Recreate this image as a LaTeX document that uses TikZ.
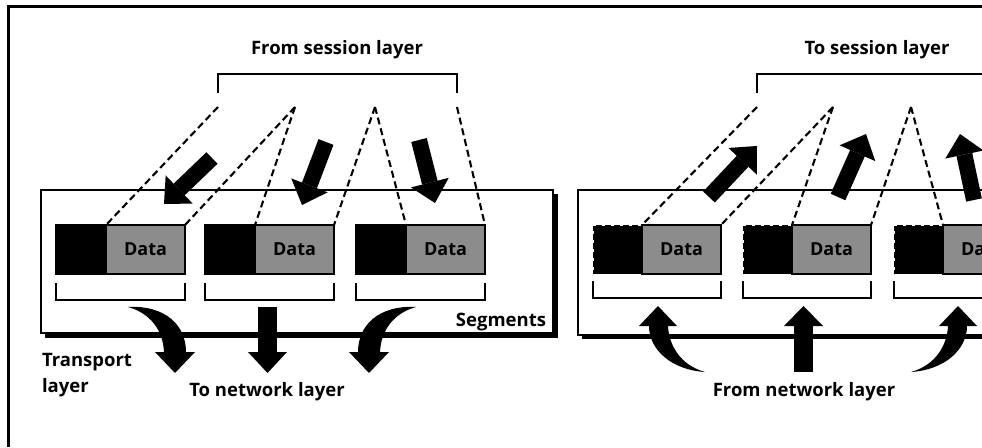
\documentclass[tikz,border=0pt]{standalone}
\usepackage{fontspec}
\setmainfont{Open Sans}
\usetikzlibrary{arrows.meta}
\definecolor{datagray}{RGB}{140,140,140}
\begin{document}
\begin{tikzpicture}[x=1pt,y=-1pt,
  every node/.style={inner sep=0pt, outer sep=0pt},
  lbl/.style={font=\bfseries\fontsize{18.5}{26}\selectfont},
  seghdr/.style={draw=black, fill=black, line width=1.3pt, minimum width=50pt, minimum height=49pt, anchor=north west},
  roughhdr/.style={fill=black, draw=white, line width=0.9pt, dash pattern=on 3pt off 6pt, minimum width=49pt, minimum height=49pt, anchor=north west},
  segdata/.style={draw=black, fill=datagray, line width=1.3pt, minimum width=79pt, minimum height=49pt, anchor=north west, font=\bfseries\fontsize{18}{20}\selectfont},
  bracket/.style={draw=black, line width=1.5pt},
  dashline/.style={draw=black, line width=2.1pt, dash pattern=on 7pt off 4pt},
  blockarrow/.style={line width=16pt, -{Triangle[width=39pt,length=21pt,line width=0pt]}},
  panel/.style={draw=black, fill=white, line width=1.5pt},
  shadow/.style={fill=black}
]
\useasboundingbox (0,0) rectangle (982,447);
\clip (0,0) rectangle (982,447);
\fill[white] (0,0) rectangle (982,447);

% outer frame
\coordinate (fbl) at (8.5,447);
\coordinate (ftl) at (8.5,6.5);
\coordinate (ftr) at (982,6.5);
\draw[line width=3pt] (fbl) -- (ftl) -- (ftr);

% panels with drop shadow
\fill[shadow] (45,194) rectangle (558,338);
\draw[panel] (41,190) rectangle (553,333);
\fill[shadow] (582,194) rectangle (1010,339);
\draw[panel] (578,190) rectangle (1005,335);

% ---------- left side ----------
\node[lbl] (fromsess) at (337,50) {From session layer};
\coordinate (s1) at (218,107);
\coordinate (s2) at (295,107);
\coordinate (s3) at (375,107);
\coordinate (s4) at (457,107);
\coordinate (bl1) at (218,93);
\coordinate (bl2) at (218,74);
\coordinate (bl3) at (457,74);
\coordinate (bl4) at (457,93);
\draw[bracket] (bl1) -- (bl2) -- (bl3) -- (bl4);

\node[seghdr] (h1) at (56,225) {};
\node[segdata] (d1) at (106,225) {Data};
\node[seghdr] (h2) at (205,225) {};
\node[segdata] (d2) at (255,225) {Data};
\node[seghdr] (h3) at (356,225) {};
\node[segdata] (d3) at (406,225) {Data};

\foreach \i in {1,2,3}{
  \draw[bracket] ([yshift=-9pt]h\i.south west) -- ++(0,17) -- ([yshift=-26pt]d\i.south east) -- ++(0,-17);
}

\draw[dashline] (s1) -- (d1.north west);
\draw[dashline] (s2) -- (d1.north east);
\draw[dashline] (s2) -- (d2.north west);
\draw[dashline] (s3) -- (d2.north east);
\draw[dashline] (s3) -- (d3.north west);
\draw[dashline] (s4) -- (d3.north east);

\coordinate (a1s) at (212,158); \coordinate (a1e) at (164,204);
\coordinate (a2s) at (326,142); \coordinate (a2e) at (302,205);
\coordinate (a3s) at (419,140); \coordinate (a3e) at (435,203);
\draw[blockarrow] (a1s) -- (a1e);
\draw[blockarrow] (a2s) -- (a2e);
\draw[blockarrow] (a3s) -- (a3e);

% down swooshes
\fill (128,307) .. controls (165,305) and (186,325) .. (186,352) -- (195,352) -- (175,373) -- (155,352) -- (164,352) .. controls (163,330) and (150,313) .. (128,307) -- cycle;
\fill (258,307) rectangle (277,353);
\fill (248,352) -- (287,352) -- (267.5,373) -- cycle;
\fill (416,307) .. controls (379,305) and (358,325) .. (358,352) -- (349,352) -- (369,373) -- (389,352) -- (380,352) .. controls (381,330) and (394,313) .. (416,307) -- cycle;

\node[lbl, anchor=east] (segs) at (546,322) {Segments};
\node[lbl, anchor=west, align=left] (transp) at (42,375) {Transport\\layer};
\node[lbl] (tonet) at (267,392) {To network layer};

% ---------- right side ----------
\node[lbl] (tosess) at (877,50) {To session layer};
\coordinate (t1) at (757,107);
\coordinate (t2) at (833,107);
\coordinate (t3) at (911,107);
\coordinate (br1) at (757,93);
\coordinate (br2) at (757,74);
\coordinate (br3) at (990,74);
\draw[bracket] (br1) -- (br2) -- (br3);

\node[roughhdr] (g1) at (593,225) {};
\node[segdata] (e1) at (642,225) {Data};
\node[roughhdr] (g2) at (743,225) {};
\node[segdata] (e2) at (792,225) {Data};
\node[roughhdr] (g3) at (894,225) {};
\node[segdata] (e3) at (943,225) {Data};

\foreach \i in {1,2,3}{
  \draw[bracket] ([yshift=-7pt]g\i.south west) -- ++(0,17) -- ([yshift=-24pt]e\i.south east) -- ++(0,-17);
}

\draw[dashline] (t1) -- (e1.north west);
\draw[dashline] (t2) -- (e1.north east);
\draw[dashline] (t2) -- (e2.north west);
\draw[dashline] (t3) -- (e2.north east);
\draw[dashline] (t3) -- (e3.north west);

\coordinate (b1s) at (709,197); \coordinate (b1e) at (757,146);
\coordinate (b2s) at (838,197); \coordinate (b2e) at (866,134);
\coordinate (b3s) at (974,200); \coordinate (b3e) at (960,134);
\draw[blockarrow] (b1s) -- (b1e);
\draw[blockarrow] (b2s) -- (b2e);
\draw[blockarrow] (b3s) -- (b3e);

% up swooshes
\fill (705,372) .. controls (672,370) and (649,350) .. (649,326) -- (639,326) -- (658,306) -- (677,326) -- (668,326) .. controls (669,345) and (680,365) .. (705,372) -- cycle;
\fill (794,326) rectangle (813,372);
\fill (784,326) -- (823,326) -- (803.5,306) -- cycle;
\fill (911,372) .. controls (944,370) and (967,350) .. (967,326) -- (977,326) -- (958,306) -- (939,326) -- (948,326) .. controls (947,345) and (936,365) .. (911,372) -- cycle;

\node[lbl] (fromnet) at (804,392) {From network layer};
\end{tikzpicture}
\end{document}
